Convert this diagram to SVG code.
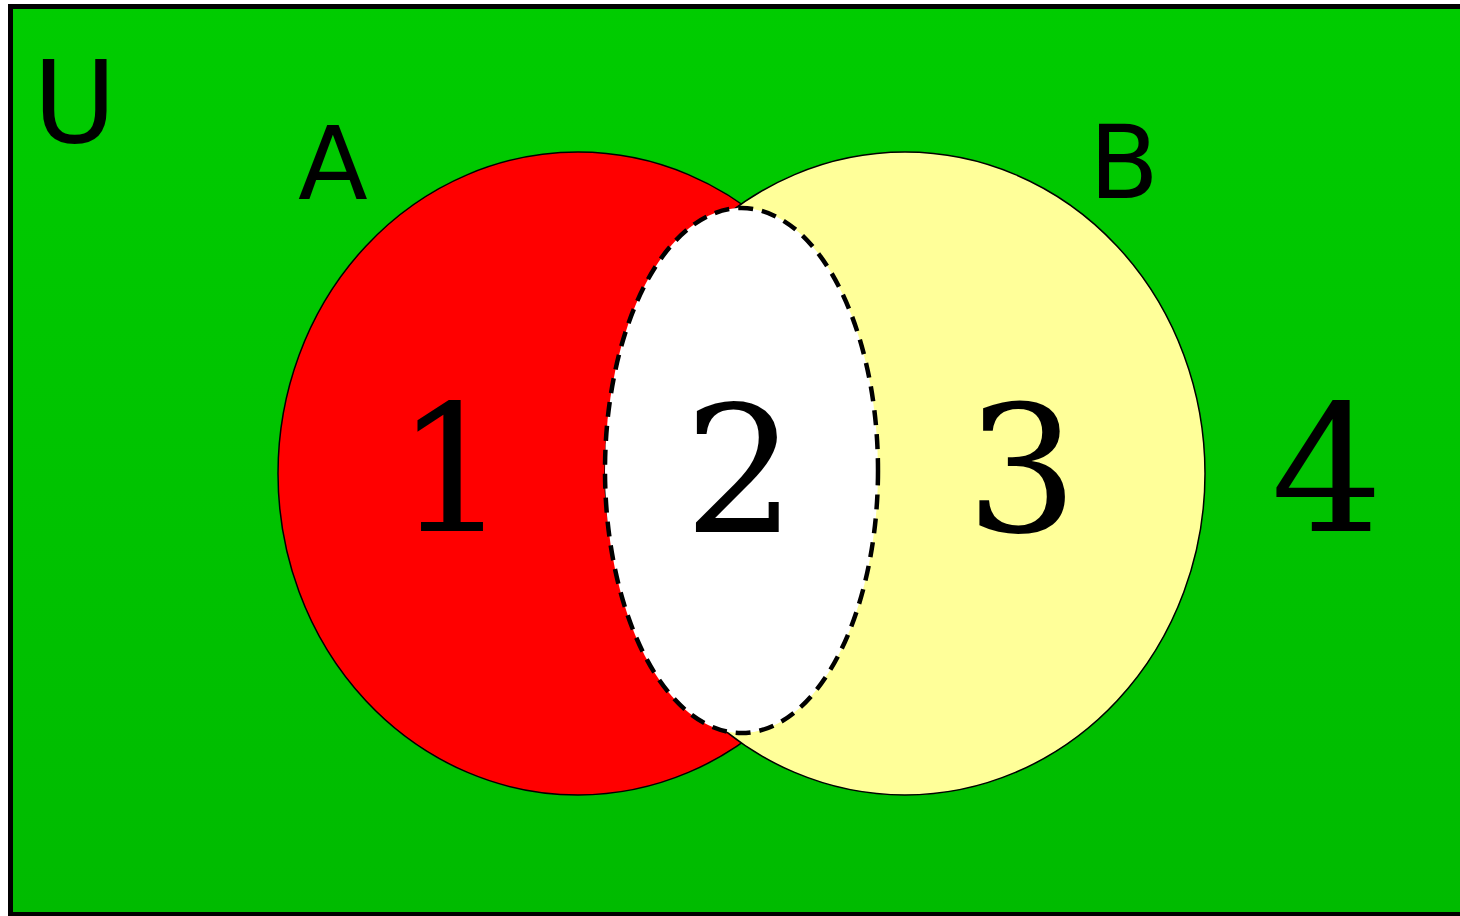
<svg xmlns="http://www.w3.org/2000/svg" width="1460" height="916" viewBox="0 0 1460 916">
<defs>
<linearGradient id="bg" x1="0" y1="0" x2="0" y2="1">
<stop offset="0" stop-color="#00cc00"/>
<stop offset="1" stop-color="#00bb00"/>
</linearGradient>
</defs>
<style>
.set{stroke:#000;stroke-width:1.5}
.lbl{fill:#000}
.num{font-size:176px;fill:#000;text-anchor:middle}
</style>
<g id="universe">
<rect x="10.5" y="6.5" width="1470" height="908" fill="url(#bg)" stroke="#000" stroke-width="5"/>
<text class="lbl" x="33" y="142" font-size="114" font-family="DejaVu Sans">U</text>
</g>
<g id="setA">
<ellipse class="set" cx="578" cy="473.5" rx="300" ry="321.5" fill="#ff0000"/>
</g>
<g id="setB">
<ellipse class="set" cx="905" cy="473.5" rx="300" ry="321.5" fill="#ffff99"/>
</g>
<g id="intersection">
<ellipse cx="741.5" cy="470.5" rx="136.5" ry="262.5" fill="#fff" stroke="#000" stroke-width="4.5" stroke-dasharray="15 9"/>
</g>
<g id="labels">
<text class="lbl" x="298" y="199" font-size="102" font-family="DejaVu Sans">A</text>
<text class="lbl" x="1089" y="198" font-size="102" font-family="DejaVu Sans">B</text>
</g>
<g id="regions">
<text class="num" x="452" y="531" font-family="DejaVu Serif">1</text>
<text class="num" x="740" y="532" font-family="DejaVu Serif">2</text>
<text class="num" x="1022" y="532" font-family="DejaVu Serif">3</text>
<text class="num" x="1327" y="531" font-family="DejaVu Serif">4</text>
</g>
</svg>
